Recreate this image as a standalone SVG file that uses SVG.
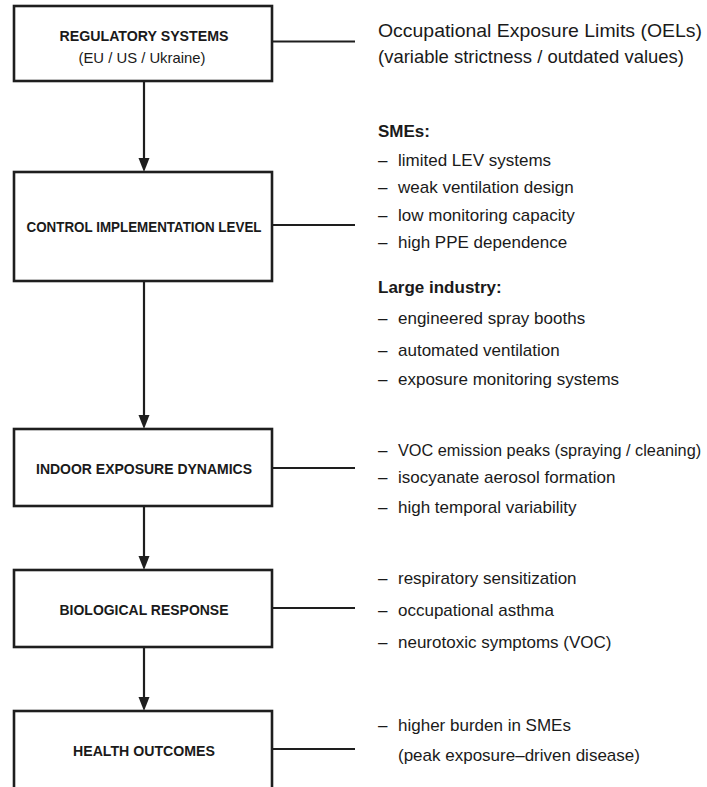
<svg xmlns="http://www.w3.org/2000/svg" width="707" height="787" viewBox="0 0 707 787">
  <defs>
    <style>
      .box { fill: #ffffff; stroke: #1e1e1e; stroke-width: 2.6; }
      .title { font-family: "Liberation Sans", Arial, sans-serif; font-weight: bold; font-size: 15.5px; fill: #1a1a1a; text-anchor: middle; }
      .sub { font-family: "Liberation Sans", Arial, sans-serif; font-size: 14.5px; fill: #1a1a1a; text-anchor: middle; }
      .note { font-family: "Liberation Sans", Arial, sans-serif; font-size: 17px; fill: #1a1a1a; }
      .big { font-family: "Liberation Sans", Arial, sans-serif; font-size: 19px; fill: #1a1a1a; }
      .head { font-family: "Liberation Sans", Arial, sans-serif; font-size: 17px; font-weight: bold; fill: #1a1a1a; }
      .link { stroke: #1e1e1e; stroke-width: 2.2; fill: none; }
      .head-tip { fill: #1e1e1e; }
    </style>
  </defs>
  <rect width="707" height="787" fill="#ffffff"/>

  <g id="connectors">
    <line class="link" x1="272" y1="41.5" x2="355" y2="41.5"/>
    <line class="link" x1="272" y1="225" x2="355" y2="225"/>
    <line class="link" x1="272" y1="468" x2="355" y2="468"/>
    <line class="link" x1="272" y1="608" x2="355" y2="608"/>
    <line class="link" x1="272" y1="749" x2="355" y2="749"/>
    <line class="link" x1="144" y1="81" x2="144" y2="160"/>
    <path class="head-tip" d="M138.5,158 L149.5,158 L144,172 Z"/>
    <line class="link" x1="144" y1="281" x2="144" y2="417"/>
    <path class="head-tip" d="M138.5,415 L149.5,415 L144,429 Z"/>
    <line class="link" x1="144" y1="506" x2="144" y2="558"/>
    <path class="head-tip" d="M138.5,556 L149.5,556 L144,570 Z"/>
    <line class="link" x1="144" y1="647" x2="144" y2="699"/>
    <path class="head-tip" d="M138.5,697 L149.5,697 L144,711 Z"/>
  </g>

  <g id="regulatory">
    <rect class="box" x="14" y="6" width="258" height="75"/>
    <text class="title" x="144" y="41" textLength="169" lengthAdjust="spacingAndGlyphs">REGULATORY SYSTEMS</text>
    <text class="sub" x="142" y="63" textLength="127" lengthAdjust="spacingAndGlyphs">(EU / US / Ukraine)</text>
  </g>

  <g id="control">
    <rect class="box" x="14" y="172" width="258" height="109"/>
    <text class="title" x="144" y="232" textLength="235" lengthAdjust="spacingAndGlyphs">CONTROL IMPLEMENTATION LEVEL</text>
  </g>

  <g id="indoor">
    <rect class="box" x="14" y="429" width="258" height="77"/>
    <text class="title" x="144" y="474" textLength="216" lengthAdjust="spacingAndGlyphs">INDOOR EXPOSURE DYNAMICS</text>
  </g>

  <g id="biological">
    <rect class="box" x="14" y="570" width="258" height="77"/>
    <text class="title" x="144" y="615" textLength="169" lengthAdjust="spacingAndGlyphs">BIOLOGICAL RESPONSE</text>
  </g>

  <g id="health">
    <rect class="box" x="14" y="711" width="258" height="90"/>
    <text class="title" x="144" y="756" textLength="142" lengthAdjust="spacingAndGlyphs">HEALTH OUTCOMES</text>
  </g>

  <g id="oel-note">
    <text class="big" x="378" y="37" textLength="324" lengthAdjust="spacingAndGlyphs">Occupational Exposure Limits (OELs)</text>
    <text class="big" x="378" y="63" textLength="306" lengthAdjust="spacingAndGlyphs">(variable strictness / outdated values)</text>
  </g>

  <g id="control-note">
    <text class="head" x="378" y="137">SMEs:</text>
    <text class="note" y="166"><tspan x="378">–</tspan><tspan x="398">limited LEV systems</tspan></text>
    <text class="note" y="193"><tspan x="378">–</tspan><tspan x="398">weak ventilation design</tspan></text>
    <text class="note" y="221"><tspan x="378">–</tspan><tspan x="398">low monitoring capacity</tspan></text>
    <text class="note" y="248"><tspan x="378">–</tspan><tspan x="398">high PPE dependence</tspan></text>
    <text class="head" x="378" y="293">Large industry:</text>
    <text class="note" y="324"><tspan x="378">–</tspan><tspan x="398">engineered spray booths</tspan></text>
    <text class="note" y="356"><tspan x="378">–</tspan><tspan x="398">automated ventilation</tspan></text>
    <text class="note" y="385"><tspan x="378">–</tspan><tspan x="398">exposure monitoring systems</tspan></text>
  </g>

  <g id="indoor-note">
    <text class="note" y="456"><tspan x="378">–</tspan><tspan x="398" style="font-size:16.3px">VOC emission peaks (spraying / cleaning)</tspan></text>
    <text class="note" y="483"><tspan x="378">–</tspan><tspan x="398">isocyanate aerosol formation</tspan></text>
    <text class="note" y="513"><tspan x="378">–</tspan><tspan x="398">high temporal variability</tspan></text>
  </g>

  <g id="biological-note">
    <text class="note" y="584"><tspan x="378">–</tspan><tspan x="398">respiratory sensitization</tspan></text>
    <text class="note" y="616"><tspan x="378">–</tspan><tspan x="398">occupational asthma</tspan></text>
    <text class="note" y="648"><tspan x="378">–</tspan><tspan x="398">neurotoxic symptoms (VOC)</tspan></text>
  </g>

  <g id="health-note">
    <text class="note" y="731"><tspan x="378">–</tspan><tspan x="398">higher burden in SMEs</tspan></text>
    <text class="note" x="398" y="761">(peak exposure–driven disease)</text>
  </g>
</svg>
